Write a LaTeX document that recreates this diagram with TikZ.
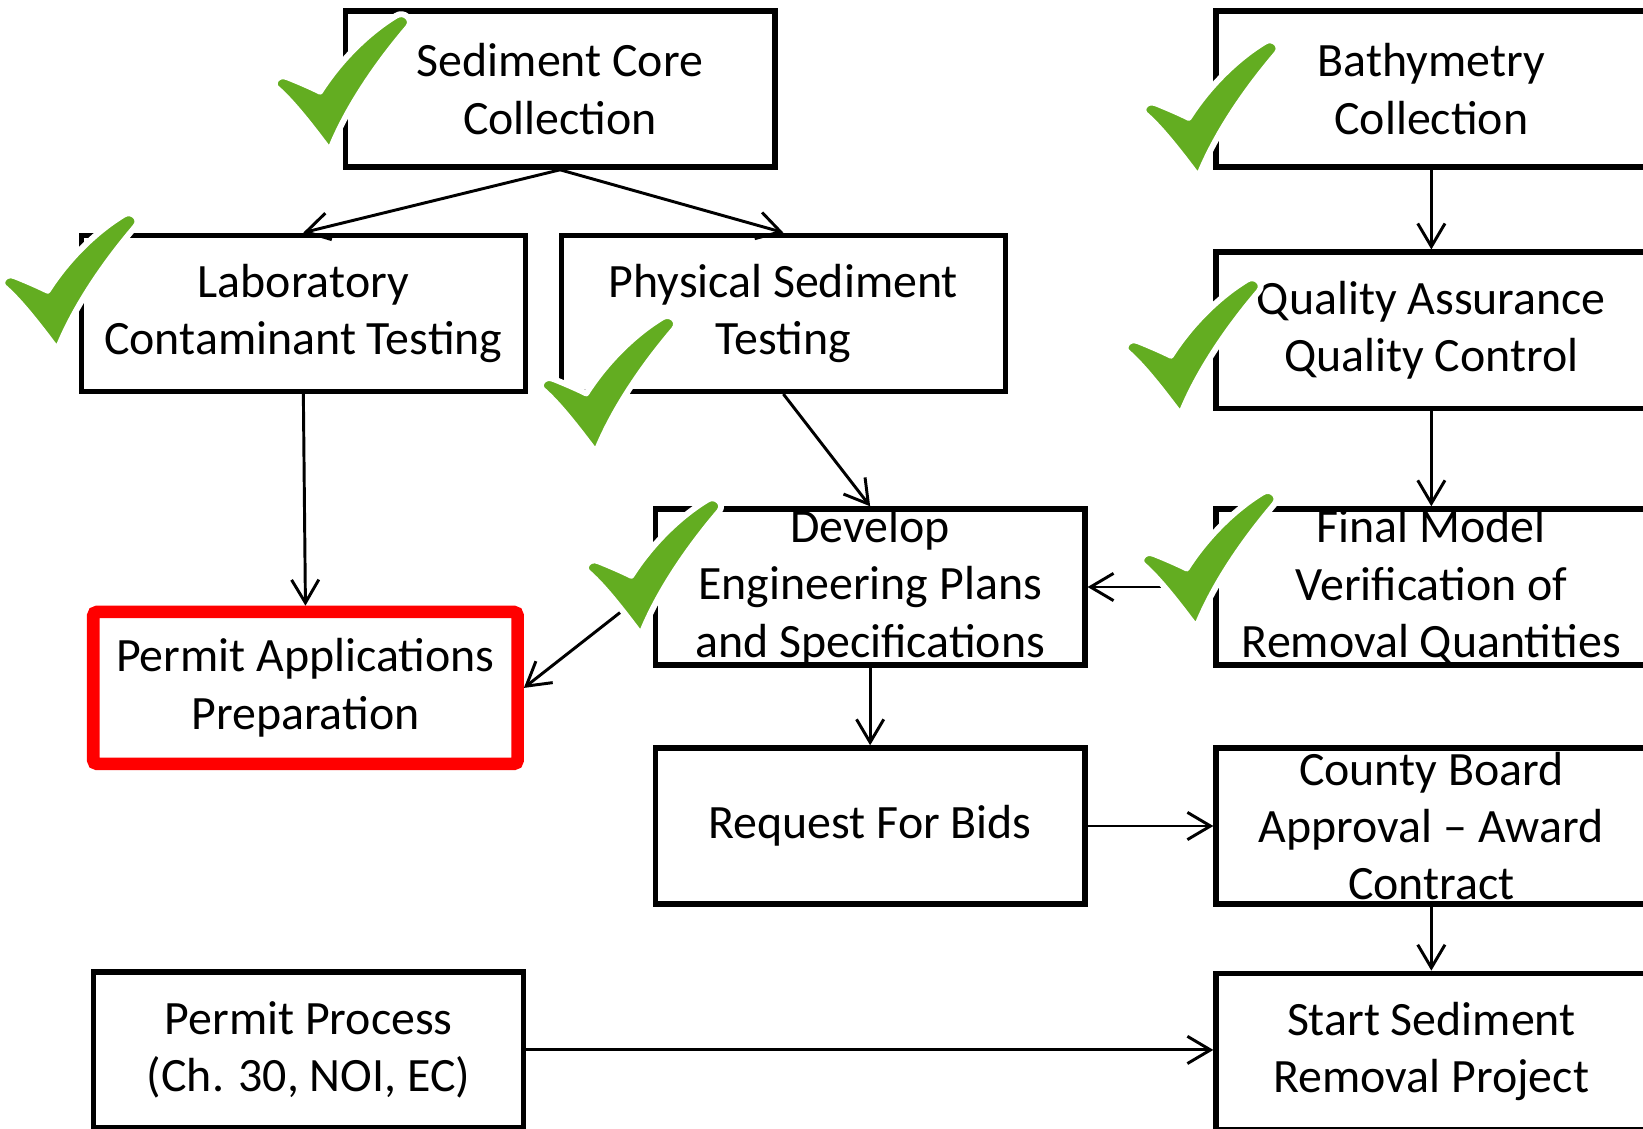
\documentclass[tikz,border=0pt]{standalone}
\usepackage{fontspec}
\setmainfont{Carlito}
\usepackage{tikz}
\usetikzlibrary{positioning,arrows.meta}

\definecolor{tickgreen}{RGB}{99,173,33}

% three lines of text squeezed into a box of fixed height
\newcommand{\threelines}[1]{\parbox[c][1.1cm][c]{3.7cm}{\centering #1}}

% green check mark, origin at its lower tip
\tikzset{
	pics/tick/.style={
		code={
			\filldraw[fill=tickgreen, draw=white, line width=1.6pt, line join=round, scale=1.25]
				(0.03,0) .. controls (-0.12,0.2) and (-0.25,0.36) .. (-0.355,0.45)
				.. controls (-0.39,0.49) and (-0.34,0.56) .. (-0.27,0.53)
				.. controls (-0.17,0.49) and (-0.08,0.45) .. (-0.02,0.42)
				.. controls (0.12,0.64) and (0.33,0.86) .. (0.56,1.0)
				.. controls (0.62,1.04) and (0.70,0.97) .. (0.65,0.91)
				.. controls (0.42,0.64) and (0.20,0.32) .. (0.07,0.01)
				.. controls (0.06,-0.02) and (0.04,-0.02) .. (0.03,0) -- cycle;
		}
	}
}

\begin{document}
\begin{tikzpicture}[
font=\fontsize{13}{15.6}\selectfont,
box/.style={
	rectangle,
	draw,
	line width=1.45pt,
	align=center,
	minimum width=4.10cm,
	minimum height=1.49cm
},
widebox/.style={box, minimum width=4.24cm},
sidebox/.style={box, minimum width=4.11cm},
permitbox/.style={
	box,
	draw=red,
	line width=3.4pt,
	rounded corners=1pt,
	minimum width=4.05cm,
	minimum height=1.45cm
},
arrow/.style={-{Straight Barb[length=2.2mm,width=2.6mm]}, line width=0.8pt}
]
\useasboundingbox (0,0) rectangle (15.68,-10.77);
\clip (0,0) rectangle (15.68,-10.77);

% sampling and survey
\node[box] (core) at (5.345,-0.85) {Sediment Core\\Collection};
\node[sidebox] (bathy) at (13.66,-0.85) {Bathymetry\\Collection};

\node[widebox] (lab) at (2.895,-2.99) {Laboratory\\Contaminant Testing};
\node[widebox, right=0.29cm of lab] (phys) {Physical Sediment\\Testing};

\node[sidebox, below=0.76cm of bathy] (qa) {Quality Assurance\\Quality Control};
\node[sidebox, below=0.91cm of qa] (final) {\threelines{Final Model\\Verification of\\Removal Quantities}};

% design and bidding
\node[box, left=1.20cm of final] (dev) {\threelines{Develop\\Engineering Plans\\and Specifications}};
\node[box, below=0.74cm of dev] (rfb) {Request For Bids};
\node[sidebox, below=0.74cm of final] (county) {\threelines{County Board\\Approval -- Award\\Contract}};
\node[sidebox, below=0.61cm of county] (start) {Start Sediment\\Removal Project};

% permits
\node[permitbox] (permit) at (2.915,-6.565) {Permit Applications\\Preparation};
\node[box] (pp) at (2.945,-10.02) {Permit Process\\(Ch. 30, NOI, EC)};

\draw[arrow] (core.south) -- (lab.north);
\draw[arrow] (core.south) -- (phys.north);
\draw[arrow] (lab.south) -- (permit.north);
\draw[arrow] (phys.south) -- (dev.north);

\draw[arrow] (bathy) -- (qa);
\draw[arrow] (qa) -- (final);
\draw[arrow] (final.west) -- (dev.east);
\draw[arrow] (dev.west) -- (permit.east);
\draw[arrow] (dev) -- (rfb);
\draw[arrow] (rfb) -- (county);
\draw[arrow] (county) -- (start);
\draw[arrow] (pp.east) -- (pp.east -| start.west);

% completed steps
\pic at (3.08,-1.40) {tick};
\pic at (0.48,-3.30) {tick};
\pic at (5.62,-4.28) {tick};
\pic at (11.37,-1.65) {tick};
\pic at (11.20,-3.92) {tick};
\pic at (6.05,-6.02) {tick};
\pic at (11.35,-5.95) {tick};

\end{tikzpicture}
\end{document}
